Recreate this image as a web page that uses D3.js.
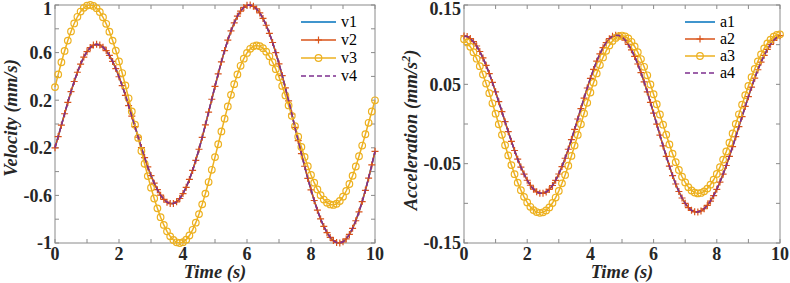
<!DOCTYPE html>
<html>
<head>
<meta charset="utf-8">
<script src="https://cdn.jsdelivr.net/npm/d3@7"></script>
<style>
  body { margin: 0; background: #fff; }
  svg { display: block; }
</style>
</head>
<body>
<div id="chart"></div>
<script>
// sample times (s), one marker every 0.1 s
const time = d3.range(101).map(i => i / 10);

// velocity (mm/s)
const vRed = [-0.200,-0.106,-0.010,0.086,0.181,0.272,0.357,0.435,0.503,0.562,
  0.608,0.642,0.663,0.670,0.664,0.646,0.617,0.576,0.526,0.466,
  0.397,0.322,0.241,0.155,0.067,-0.022,-0.111,-0.198,-0.282,-0.361,
  -0.433,-0.497,-0.552,-0.598,-0.633,-0.657,-0.669,-0.668,-0.654,-0.626,
  -0.585,-0.532,-0.466,-0.390,-0.305,-0.212,-0.112,-0.007,0.100,0.208,
  0.316,0.421,0.522,0.617,0.704,0.782,0.850,0.906,0.949,0.980,
  0.997,0.999,0.989,0.967,0.933,0.887,0.830,0.762,0.685,0.599,
  0.506,0.407,0.303,0.195,0.084,-0.028,-0.139,-0.249,-0.355,-0.457,
  -0.553,-0.643,-0.724,-0.798,-0.861,-0.913,-0.953,-0.980,-0.996,-1.000,
  -0.990,-0.966,-0.928,-0.877,-0.813,-0.738,-0.652,-0.557,-0.454,-0.344,
  -0.230];
const v1 = vRed;
const v2 = vRed;
const v4 = vRed;
const v3 = [0.310,0.417,0.519,0.614,0.701,0.778,0.845,0.901,0.945,0.976,
  0.995,1.000,0.992,0.973,0.941,0.897,0.842,0.776,0.701,0.617,
  0.526,0.428,0.324,0.216,0.106,-0.006,-0.117,-0.227,-0.334,-0.438,
  -0.535,-0.626,-0.709,-0.783,-0.848,-0.902,-0.944,-0.975,-0.994,-1.000,
  -0.993,-0.972,-0.937,-0.889,-0.829,-0.757,-0.675,-0.585,-0.488,-0.385,
  -0.278,-0.170,-0.062,0.045,0.148,0.245,0.335,0.417,0.489,0.549,
  0.597,0.632,0.653,0.660,0.654,0.637,0.608,0.569,0.519,0.461,
  0.394,0.320,0.240,0.156,0.069,-0.019,-0.107,-0.193,-0.277,-0.355,
  -0.428,-0.493,-0.550,-0.598,-0.635,-0.661,-0.676,-0.680,-0.670,-0.647,
  -0.611,-0.563,-0.504,-0.435,-0.357,-0.271,-0.181,-0.086,0.010,0.105,
  0.199];

// acceleration (mm/s^2)
const aRed = [0.1110,0.1102,0.1078,0.1038,0.0983,0.0914,0.0833,0.0739,0.0636,0.0524,
  0.0405,0.0281,0.0156,0.0029,-0.0096,-0.0218,-0.0334,-0.0443,-0.0543,-0.0631,
  -0.0709,-0.0772,-0.0821,-0.0855,-0.0873,-0.0874,-0.0858,-0.0825,-0.0775,-0.0710,
  -0.0630,-0.0537,-0.0432,-0.0318,-0.0196,-0.0068,0.0063,0.0195,0.0326,0.0454,
  0.0575,0.0688,0.0792,0.0883,0.0962,0.1026,0.1075,0.1105,0.1119,0.1116,
  0.1095,0.1058,0.1004,0.0935,0.0852,0.0756,0.0648,0.0530,0.0405,0.0272,
  0.0136,-0.0002,-0.0140,-0.0276,-0.0407,-0.0532,-0.0650,-0.0756,-0.0851,-0.0933,
  -0.1000,-0.1053,-0.1088,-0.1107,-0.1109,-0.1096,-0.1068,-0.1026,-0.0971,-0.0903,
  -0.0823,-0.0732,-0.0632,-0.0523,-0.0407,-0.0286,-0.0160,-0.0033,0.0094,0.0221,
  0.0345,0.0464,0.0578,0.0684,0.0780,0.0866,0.0941,0.1004,0.1054,0.1091,
  0.1113];
const a1 = aRed;
const a2 = aRed;
const a4 = aRed;
const a3 = [0.1068,0.1028,0.0974,0.0905,0.0823,0.0729,0.0624,0.0510,0.0389,0.0261,
  0.0130,-0.0003,-0.0137,-0.0268,-0.0396,-0.0518,-0.0633,-0.0739,-0.0834,-0.0918,
  -0.0988,-0.1044,-0.1085,-0.1110,-0.1120,-0.1113,-0.1090,-0.1051,-0.0996,-0.0927,
  -0.0844,-0.0748,-0.0642,-0.0526,-0.0402,-0.0272,-0.0138,-0.0003,0.0133,0.0267,
  0.0397,0.0521,0.0637,0.0743,0.0839,0.0922,0.0991,0.1046,0.1085,0.1108,
  0.1115,0.1105,0.1078,0.1036,0.0977,0.0905,0.0819,0.0721,0.0614,0.0498,
  0.0375,0.0249,0.0120,-0.0009,-0.0135,-0.0258,-0.0374,-0.0481,-0.0579,-0.0665,
  -0.0737,-0.0796,-0.0838,-0.0865,-0.0875,-0.0869,-0.0849,-0.0814,-0.0765,-0.0703,
  -0.0629,-0.0544,-0.0449,-0.0346,-0.0235,-0.0119,0.0000,0.0122,0.0243,0.0363,
  0.0479,0.0590,0.0694,0.0790,0.0876,0.0952,0.1015,0.1064,0.1100,0.1123,
  0.1130];

// axis ticks
const timeTicks = [0,1,2,3,4,5,6,7,8,9,10];
const timeTickLabels = ["0","","2","","4","","6","","8","","10"];
const velTicks = [-1,-0.8,-0.6,-0.4,-0.2,0,0.2,0.4,0.6,0.8,1];
const velTickLabels = ["-1","","-0.6","","-0.2","","0.2","","0.6","","1"];
const accTicks = [-0.15,-0.1,-0.05,0,0.05,0.1,0.15];
const accTickLabels = ["-0.15","","-0.05","","0.05","","0.15"];

const velNames = ["v1","v2","v3","v4"];
const accNames = ["a1","a2","a3","a4"];

const colors = ["#0072BD", "#D95319", "#EDB120", "#7E2F8E"];
const markers = ["none", "plus", "circle", "none"];
const dashes = [null, null, null, "5,3"];

const width = 790, height = 283;
const svg = d3.select("#chart").append("svg")
    .attr("width", width)
    .attr("height", height);

const serif = "Liberation Serif, Times New Roman, serif";
const axisGray = "#8a8a8a";

function panel(opts) {
  const x = d3.scaleLinear().domain([0, 10]).range([opts.left, opts.right]);
  const y = d3.scaleLinear().domain(opts.yDomain).range([opts.bottom, opts.top]);
  const g = svg.append("g");

  // box
  g.append("rect")
    .attr("x", opts.left).attr("y", opts.top)
    .attr("width", opts.right - opts.left)
    .attr("height", opts.bottom - opts.top)
    .attr("fill", "none")
    .attr("stroke", axisGray)
    .attr("stroke-width", 1);

  // inner ticks on all four sides
  const tl = 4;
  const tg = g.append("g").attr("stroke", axisGray).attr("stroke-width", 1);
  timeTicks.forEach(d => {
    tg.append("line").attr("x1", x(d)).attr("x2", x(d))
      .attr("y1", opts.bottom).attr("y2", opts.bottom - tl);
    tg.append("line").attr("x1", x(d)).attr("x2", x(d))
      .attr("y1", opts.top).attr("y2", opts.top + tl);
  });
  opts.yTicks.forEach(d => {
    tg.append("line").attr("x1", opts.left).attr("x2", opts.left + tl)
      .attr("y1", y(d)).attr("y2", y(d));
    tg.append("line").attr("x1", opts.right).attr("x2", opts.right - tl)
      .attr("y1", y(d)).attr("y2", y(d));
  });

  // tick labels
  g.append("g").selectAll("text")
    .data(timeTicks)
    .join("text")
      .attr("x", d => x(d))
      .attr("y", opts.bottom + 17)
      .attr("text-anchor", "middle")
      .attr("font-family", serif)
      .attr("font-weight", "bold")
      .attr("font-size", "18px")
      .attr("fill", "#262626")
      .text((d, i) => timeTickLabels[i]);

  g.append("g").selectAll("text")
    .data(opts.yTicks)
    .join("text")
      .attr("x", opts.left - 3)
      .attr("y", d => Math.max(y(d), opts.top + 4))   // keep the top label inside the page
      .attr("dy", "0.35em")
      .attr("text-anchor", "end")
      .attr("font-family", serif)
      .attr("font-weight", "bold")
      .attr("font-size", "18px")
      .attr("fill", "#262626")
      .text((d, i) => opts.yTickLabels[i]);

  // axis titles
  g.append("text")
    .attr("x", (opts.left + opts.right) / 2)
    .attr("y", opts.bottom + 35)
    .attr("text-anchor", "middle")
    .attr("font-family", serif)
    .attr("font-weight", "bold")
    .attr("font-style", "italic")
    .attr("font-size", "18.5px")
    .attr("fill", "#262626")
    .text("Time (s)");

  const yt = g.append("text")
    .attr("transform", `translate(${opts.yTitleX}, ${opts.yTitleY}) rotate(-90)`)
    .attr("text-anchor", "middle")
    .attr("font-family", serif)
    .attr("font-weight", "bold")
    .attr("font-style", "italic")
    .attr("font-size", "18.5px")
    .attr("fill", "#262626");
  opts.yTitle(yt);

  // series
  const line = d3.line().x(d => x(d[0])).y(d => y(d[1]));
  opts.series.forEach((s, k) => {
    const pts = time.map((t, i) => [t, s[i]]);
    const sg = g.append("g");
    sg.append("path")
      .datum(pts)
      .attr("fill", "none")
      .attr("stroke", colors[k])
      .attr("stroke-width", 1.5)
      .attr("stroke-dasharray", dashes[k])
      .attr("d", line);
    drawMarkers(sg, pts.map(p => [x(p[0]), y(p[1])]), markers[k], colors[k]);
  });

  // legend (no box)
  const lg = g.append("g");
  opts.names.forEach((name, k) => {
    const ly = opts.legend.y + k * opts.legend.dy;
    lg.append("line")
      .attr("x1", opts.legend.x).attr("x2", opts.legend.x + opts.legend.len)
      .attr("y1", ly).attr("y2", ly)
      .attr("stroke", colors[k])
      .attr("stroke-width", 1.5)
      .attr("stroke-dasharray", dashes[k]);
    drawMarkers(lg, [[opts.legend.x + opts.legend.len / 2, ly]], markers[k], colors[k]);
    lg.append("text")
      .attr("x", opts.legend.x + opts.legend.len + 5)
      .attr("y", ly)
      .attr("dy", "0.33em")
      .attr("font-family", serif)
      .attr("font-size", "16px")
      .attr("fill", "#000")
      .text(name);
  });
}

function drawMarkers(sel, pts, kind, color) {
  if (kind === "plus") {
    const h = 3.5;
    sel.append("path")
      .attr("fill", "none")
      .attr("stroke", color)
      .attr("stroke-width", 1.2)
      .attr("d", pts.map(p =>
        `M${p[0] - h},${p[1]}H${p[0] + h}M${p[0]},${p[1] - h}V${p[1] + h}`).join(""));
  } else if (kind === "circle") {
    sel.selectAll(null)
      .data(pts)
      .join("circle")
        .attr("cx", p => p[0])
        .attr("cy", p => p[1])
        .attr("r", 3.3)
        .attr("fill", "none")
        .attr("stroke", color)
        .attr("stroke-width", 1.2);
  }
}

panel({
  left: 55, right: 375, top: 5, bottom: 243,
  yDomain: [-1, 1],
  yTicks: velTicks, yTickLabels: velTickLabels,
  yTitleX: 17, yTitleY: 118,
  yTitle: t => t.text("Velocity (mm/s)"),
  series: [v1, v2, v3, v4],
  names: velNames,
  legend: {x: 301, y: 22, dy: 18, len: 35}
});

panel({
  left: 464, right: 780, top: 5, bottom: 243,
  yDomain: [-0.15, 0.15],
  yTicks: accTicks, yTickLabels: accTickLabels,
  yTitleX: 417, yTitleY: 130,
  yTitle: t => {
    t.append("tspan").text("Acceleration (mm/s");
    t.append("tspan").attr("font-size", "12px").attr("dy", "-0.6em").text("2");
    t.append("tspan").attr("dy", "0.4em").text(")");
  },
  series: [a1, a2, a3, a4],
  names: accNames,
  legend: {x: 685, y: 22, dy: 17, len: 30}
});
</script>
</body>
</html>
